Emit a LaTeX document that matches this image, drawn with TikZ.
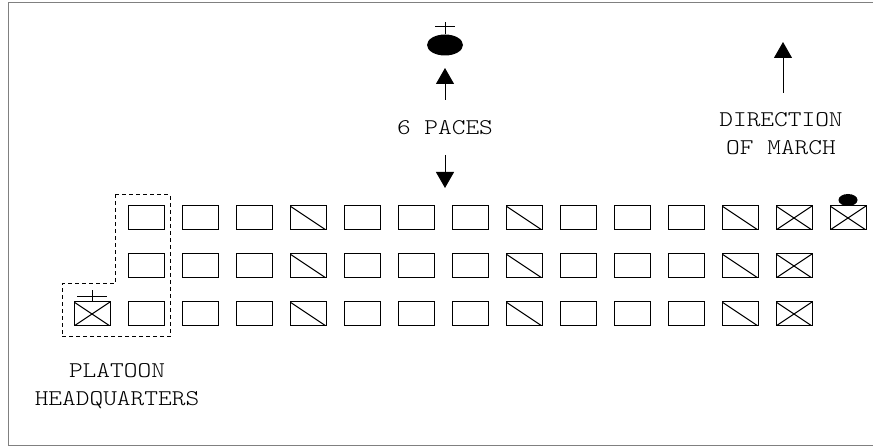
\documentclass[tikz,border=0pt]{standalone}
\usepackage{fontspec}
\setmonofont{lmmonolt10-regular.otf}[FakeStretch=1.16]
\usetikzlibrary{arrows.meta,shapes.geometric}
\tikzset{
  box/.style={draw,rectangle,minimum width=36pt,minimum height=24pt,inner sep=0pt},
  diagbox/.style={box,path picture={\draw(path picture bounding box.north west)--(path picture bounding box.south east);}},
  crossbox/.style={box,path picture={\draw(path picture bounding box.north west)--(path picture bounding box.south east)
    (path picture bounding box.south west)--(path picture bounding box.north east);}},
  lbl/.style={font=\ttfamily\fontsize{22.5}{28}\selectfont,align=center,inner sep=0pt}
}
\begin{document}
\begin{tikzpicture}[x=1pt,y=-1pt,line width=1pt,>={Triangle[width=18pt,length=16pt]}]
\useasboundingbox(0,0)rectangle(873,446);
\draw[gray](873,3)--(8,3)--(8,445)--(873,445);
% the three ranks
\foreach \r/\y in {1/218,2/266,3/314}{
  \foreach \c/\t in {0/box,1/box,2/box,3/diagbox,4/box,5/box,6/box,7/diagbox,8/box,9/box,10/box,11/diagbox,12/crossbox}{
    \node[\t](b\r-\c) at ({146+54*\c},\y){};
  }
}
\node[crossbox](b1-13) at (848,218){};
\node[ellipse,fill,minimum width=19pt,minimum height=12pt,inner sep=0pt](sq) at (848,200){};
% platoon leader
\node[ellipse,fill,minimum width=36pt,minimum height=21pt,inner sep=0pt](ldr) at (445,45){};
\draw(ldr.north)--(445,22);
\draw(435,27)--(455,27);
\node[lbl](paces) at (445,128){6 PACES};
\coordinate(pu1) at (445,100);\coordinate(pu2) at (445,68);
\coordinate(pd1) at (445,155);\coordinate(pd2) at (445,188);
\draw[->](pu1)--(pu2);
\draw[->](pd1)--(pd2);
% direction of march
\node[lbl](dir) at (781,134){DIRECTION\\OF MARCH};
\coordinate(dm1) at (783,93);\coordinate(dm2) at (783,42);
\draw[->](dm1)--(dm2);
% headquarters
\node[crossbox](hq) at (92,314){};
\draw(hq.north)--(92,290);
\draw(77,297)--(107,297);
\draw[dashed,dash pattern=on 4pt off 3pt](115,195)--(170,195)--(170,337)--(62,337)--(62,284)--(115,284)--cycle;
\node[lbl](phq) at (117,386){PLATOON\\HEADQUARTERS};
\end{tikzpicture}
\end{document}
